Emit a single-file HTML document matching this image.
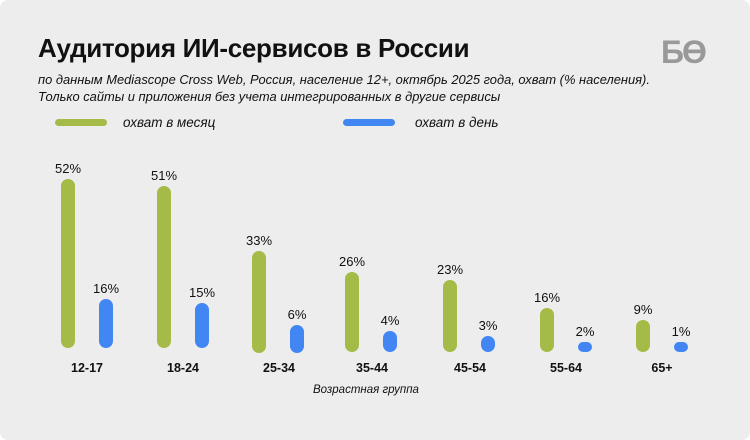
<!DOCTYPE html><html><head><meta charset="utf-8"><style>
body{margin:0;background:#fff}
.c{position:absolute;left:0;top:0;width:750px;height:440px;background:#ededed;border-radius:8px;overflow:hidden;font-family:"Liberation Sans",sans-serif;color:#111}
.t{position:absolute;left:38px;top:33px;font-size:26px;font-weight:bold;letter-spacing:-0.3px}
.s{position:absolute;left:38px;top:71px;font-size:12.9px;font-style:italic;line-height:17px}
.b{position:absolute;width:14px;border-radius:7px}
.g{background:#a5bb47}.bl{background:#4286f4}
.v{position:absolute;font-size:13px;width:50px;text-align:center}
.x{position:absolute;top:361px;font-size:12.5px;font-weight:bold;width:60px;text-align:center}
.lg{position:absolute;height:7px;border-radius:4px;top:119px}
</style></head><body><div class="c">
<div class="t">Аудитория ИИ-сервисов в России</div>
<div class="s">по данным Mediascope Cross Web, Россия, население 12+, октябрь 2025 года, охват (% населения).<br>Только сайты и приложения без учета интегрированных в другие сервисы</div>
<div style="position:absolute;left:661px;top:34px;font-size:32px;font-weight:bold;color:#999;letter-spacing:-2px">БӨ</div>
<div class="lg g" style="left:55px;width:52px"></div><div style="position:absolute;left:123px;top:115px;font-size:13.5px;font-style:italic">охват в месяц</div>
<div class="lg bl" style="left:343px;width:52px"></div><div style="position:absolute;left:415px;top:115px;font-size:13.5px;font-style:italic">охват в день</div>
<div class="b g" style="left:61px;top:179px;height:169px"></div><div class="v" style="left:43px;top:161px">52%</div>
<div class="b bl" style="left:99px;top:299px;height:49px"></div><div class="v" style="left:81px;top:281px">16%</div>
<div class="b g" style="left:157px;top:186px;height:162px"></div><div class="v" style="left:139px;top:168px">51%</div>
<div class="b bl" style="left:195px;top:303px;height:45px"></div><div class="v" style="left:177px;top:285px">15%</div>
<div class="b g" style="left:252px;top:251px;height:102px"></div><div class="v" style="left:234px;top:233px">33%</div>
<div class="b bl" style="left:290px;top:325px;height:28px"></div><div class="v" style="left:272px;top:307px">6%</div>
<div class="b g" style="left:345px;top:272px;height:80px"></div><div class="v" style="left:327px;top:254px">26%</div>
<div class="b bl" style="left:383px;top:331px;height:21px"></div><div class="v" style="left:365px;top:313px">4%</div>
<div class="b g" style="left:443px;top:280px;height:72px"></div><div class="v" style="left:425px;top:262px">23%</div>
<div class="b bl" style="left:481px;top:336px;height:16px"></div><div class="v" style="left:463px;top:318px">3%</div>
<div class="b g" style="left:540px;top:308px;height:44px"></div><div class="v" style="left:522px;top:290px">16%</div>
<div class="b bl" style="left:578px;top:342px;height:10px"></div><div class="v" style="left:560px;top:324px">2%</div>
<div class="b g" style="left:636px;top:320px;height:32px"></div><div class="v" style="left:618px;top:302px">9%</div>
<div class="b bl" style="left:674px;top:342px;height:10px"></div><div class="v" style="left:656px;top:324px">1%</div>
<div class="x" style="left:57px">12-17</div><div class="x" style="left:153px">18-24</div><div class="x" style="left:249px">25-34</div><div class="x" style="left:342px">35-44</div><div class="x" style="left:440px">45-54</div><div class="x" style="left:536px">55-64</div><div class="x" style="left:632px">65+</div>
<div style="position:absolute;left:313px;top:384px;font-size:11.5px;font-style:italic">Возрастная группа</div>
</div></body></html>
